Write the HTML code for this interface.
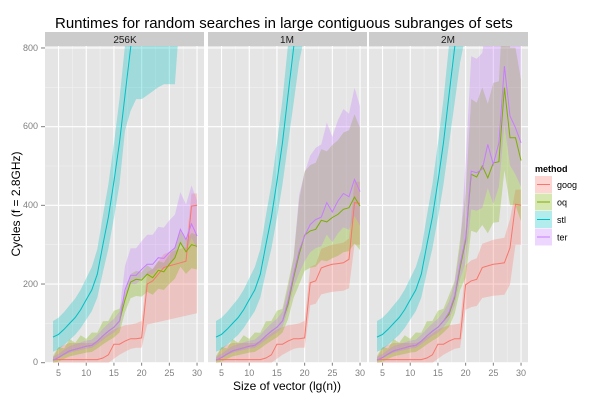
<!DOCTYPE html>
<html><head><meta charset="utf-8"><style>
body{margin:0;background:#fff;}
svg text{font-family:"Liberation Sans",sans-serif;}
</style></head><body>
<svg id="s" width="600" height="400" xmlns="http://www.w3.org/2000/svg">
<rect width="600" height="400" fill="#fff"/>
<defs id="defs"></defs>
<g id="panels"></g>
<text x="55" y="28" font-size="15" fill="#000">Runtimes for random searches in large contiguous subranges of sets</text>
<text x="125" y="43" font-size="10" text-anchor="middle" fill="#1a1a1a">256K</text>
<text x="287" y="43" font-size="10" text-anchor="middle" fill="#1a1a1a">1M</text>
<text x="448" y="43" font-size="10" text-anchor="middle" fill="#1a1a1a">2M</text>
<g font-size="9" fill="#7f7f7f" text-anchor="end">
<text x="38" y="365">0</text><text x="38" y="287">200</text><text x="38" y="208">400</text><text x="38" y="129">600</text><text x="38" y="51">800</text>
</g>
<g id="xt" font-size="9" fill="#7f7f7f" text-anchor="middle"></g>
<text transform="translate(20,204) rotate(-90)" font-size="12" text-anchor="middle">Cycles (f = 2.8GHz)</text>
<text x="287" y="390" font-size="12" text-anchor="middle">Size of vector (lg(n))</text>
<text x="535" y="172" font-size="9" font-weight="bold">method</text>
<g id="leg" font-size="9"></g>
</svg>
<script>
var C={goog:"#F8766D",oq:"#7CAE00",stl:"#00BFC4",ter:"#C77CFF"};
var offs=[45,208,369],W=159,T0=46,bot=362.7;
function X(o,x){return o+8+(x-4)*5.54;}
function Y(v){return bot-v*0.3934;}
var st=[65,72,85,100,115,135,160,185,225,300,370,460,560,680,800,920,1000,1000,1000,1000,1000,1000,1000,1000,1000,1000,1000];
var g0=[8,8,8,8,8,8,8,8,8,12,20,47,47,55,61,61,63];
var goog1=g0.concat([200,208,225,242,246,250,254,258,398,400]);
var goog2=g0.concat([203,208,241,246,250,252,254,263,407,405]);
var goog3=g0.slice(0,16).concat([198,208,212,242,246,250,252,254,292,403,400]);
var e0=[6,13,22,30,34,38,42,44,55,68,80,90,106];
var oq1=e0.concat([160,205,212,210,225,216,235,231,250,267,305,282,300,296]);
var ter1=e0.concat([185,222,222,237,250,250,267,265,280,292,339,313,353,322]);
var oq2=e0.concat([148,216,275,324,335,339,362,358,369,377,390,394,421,398]);
var ter2=e0.concat([157,224,284,322,351,364,370,407,383,411,430,422,466,435]);
var oq3=e0.concat([123,165,241,309,479,472,500,470,508,511,699,572,572,514]);
var ter3=e0.concat([128,170,250,317,487,483,492,555,504,559,754,627,597,559]);
var P=[{goog:goog1,oq:oq1,ter:ter1,stl:st},{goog:goog2,oq:oq2,ter:ter2,stl:st},{goog:goog3,oq:oq3,ter:ter3,stl:st}];
var gHi=[12,38,45,50,50,50,50,50,55,65,75,85,90,95,97,100,106];
var gLo=[0,0,0,0,0,0,0,0,0,0,0,10,20,28,35,38,38];
var tail1=[590,640,670,670,680,690,700,708,708,708,900,1000,1000,1000];
function bounds(pi,k,v,x){
 var i=x-4;
 if(k=="stl"){
  var l=v*0.86-28,u=v*1.14+32;
  if(pi==0&&x>=17)l=tail1[x-17];
  return [l,u];
 }
 if(k=="goog"){
  var start=(pi==2?20:21);
  if(x<start)return [gLo[Math.min(i,16)],gHi[Math.min(i,16)]];
  if(pi==0){var l=97+(x-21)*3.2;var u=x>=29?430:v*1.1+10;return [l,u];}
  if(pi==1){return x>=29?[300,460]:[v*0.72,v*1.2];}
  return x>=29?[300,440]:[v*0.68,v*1.25];
 }
 var th=[17,19,20][pi];
 if(x<th){
  var jag=(x%2?14:0);
  return k=="oq"?[v*0.8-8,v*1.2+10+jag]:[v*0.85,v*1.15+8];
 }
 if(pi==0)return k=="oq"?[v*0.8,v*1.1]:[v*0.9,v*1.22+20];
 if(pi==1)return k=="oq"?[v*0.72,v*1.5]:[v*0.8,v*1.5];
 return k=="oq"?[v*0.7,v*1.4]:[v*0.8,v*1.6];
}
var h="",defs="";
function band(pi,o,arr,k){
 var lo=[],hi=[];
 for(var i=0;i<arr.length;i++){var b=bounds(pi,k,arr[i],i+4);
  lo.push([X(o,i+4),Y(Math.max(b[0],0))]);hi.push([X(o,i+4),Y(b[1])]);}
 var f=function(p){return p[0].toFixed(1)+","+p[1].toFixed(1);};
 var d="M"+hi.map(f).join("L")+"L"+lo.reverse().map(f).join("L")+"Z";
 return '<path d="'+d+'" fill="'+C[k]+'" fill-opacity="0.3"/>';
}
function line(o,arr,k){return '<path d="M'+arr.map(function(v,i){return X(o,i+4).toFixed(1)+","+Y(v).toFixed(1);}).join("L")+'" fill="none" stroke="'+C[k]+'" stroke-width="1"/>';}
var xt="";
offs.forEach(function(o,pi){
 defs+='<clipPath id="c'+pi+'"><rect x="'+o+'" y="'+T0+'" width="'+W+'" height="'+(bot-T0)+'"/></clipPath>';
 h+='<rect x="'+o+'" y="32" width="'+W+'" height="14" fill="#CCCCCC"/>';
 h+='<rect x="'+o+'" y="'+T0+'" width="'+W+'" height="'+(bot-T0)+'" fill="#E5E5E5"/>';
 h+='<g clip-path="url(#c'+pi+')">';
 [100,300,500,700].forEach(function(v){h+='<line x1="'+o+'" x2="'+(o+W)+'" y1="'+Y(v)+'" y2="'+Y(v)+'" stroke="#F2F2F2" stroke-width="0.6"/>';});
 [7.5,12.5,17.5,22.5,27.5].forEach(function(v){h+='<line y1="'+T0+'" y2="'+bot+'" x1="'+X(o,v)+'" x2="'+X(o,v)+'" stroke="#F2F2F2" stroke-width="0.6"/>';});
 [0,200,400,600,800].forEach(function(v){h+='<line x1="'+o+'" x2="'+(o+W)+'" y1="'+Y(v)+'" y2="'+Y(v)+'" stroke="#fff" stroke-width="1.1"/>';});
 [5,10,15,20,25,30].forEach(function(v){h+='<line y1="'+T0+'" y2="'+bot+'" x1="'+X(o,v)+'" x2="'+X(o,v)+'" stroke="#fff" stroke-width="1.1"/>';
   xt+='<text x="'+X(o,v)+'" y="376">'+v+'</text>';});
 ["goog","oq","stl","ter"].forEach(function(k){h+=band(pi,o,P[pi][k],k);});
 ["goog","oq","stl","ter"].forEach(function(k){h+=line(o,P[pi][k],k);});
 h+='</g>';
 [5,10,15,20,25,30].forEach(function(v){h+='<line y1="'+bot+'" y2="'+(bot+3)+'" x1="'+X(o,v)+'" x2="'+X(o,v)+'" stroke="#7f7f7f"/>';});
});
[0,200,400,600,800].forEach(function(v){h+='<line x1="41" x2="45" y1="'+Y(v)+'" y2="'+Y(v)+'" stroke="#7f7f7f"/>';});
document.getElementById("defs").innerHTML=defs;
document.getElementById("panels").innerHTML=h;
document.getElementById("xt").innerHTML=xt;
var lg="";
["goog","oq","stl","ter"].forEach(function(k,i){var y=176+i*17.5;
 lg+='<rect x="535" y="'+y+'" width="17" height="17" fill="'+C[k]+'" fill-opacity="0.3"/><line x1="537" x2="550" y1="'+(y+8.5)+'" y2="'+(y+8.5)+'" stroke="'+C[k]+'"/><text x="557" y="'+(y+12)+'">'+k+'</text>';});
document.getElementById("leg").innerHTML=lg;
</script>
</body></html>
